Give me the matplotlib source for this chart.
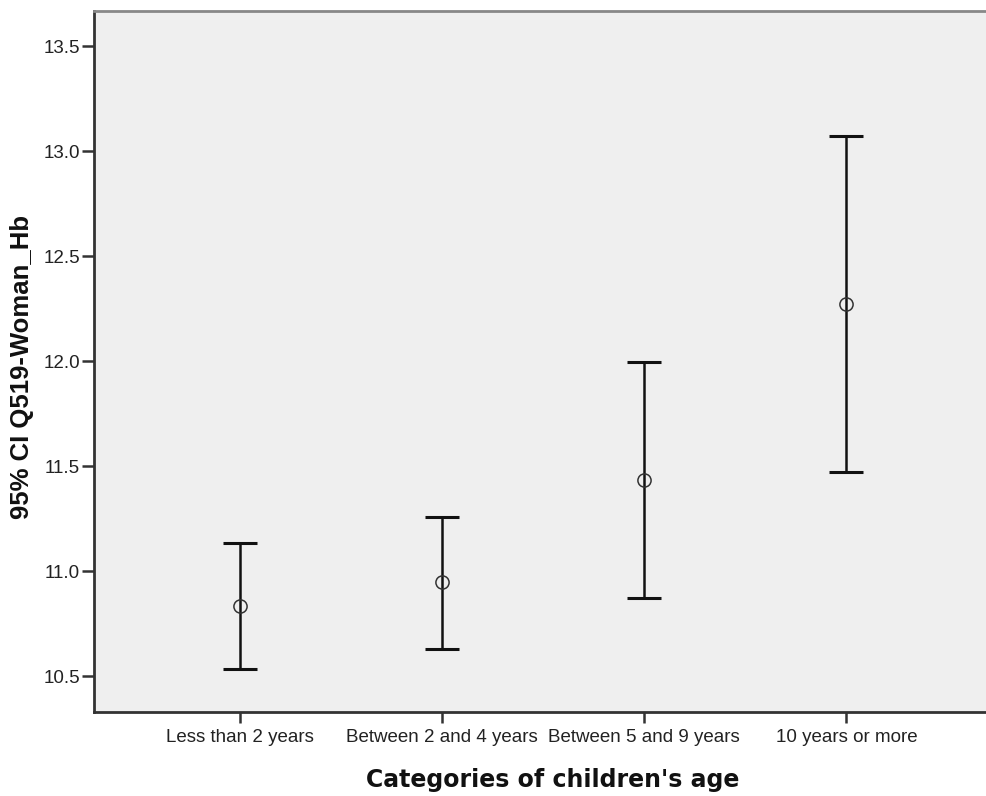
import matplotlib
matplotlib.use("Agg")
import matplotlib.pyplot as plt
import numpy as np

categories = ["Less than 2 years", "Between 2 and 4 years", "Between 5 and 9 years", "10 years or more"]
means = [10.833, 10.948, 11.433, 12.271]
lower = [10.533, 10.629, 10.871, 11.474]
upper = [11.133, 11.257, 11.995, 13.071]
yticks = [10.5, 11.0, 11.5, 12.0, 12.5, 13.0, 13.5]

W, H = 986, 796
fig = plt.figure(figsize=(W/100, H/100), dpi=100)
ax = fig.add_axes([94/W, 84/H, 1 - 94/W, (712 - 11)/H])
ax.set_facecolor("#efefef")

x = np.arange(len(categories))
m = np.array(means)
yerr = np.vstack([m - np.array(lower), np.array(upper) - m])
ax.errorbar(x, m, yerr=yerr, fmt="none", ecolor="#111111", elinewidth=1.8,
            capsize=12.5, capthick=2.2)
ax.plot(x, m, linestyle="none", marker="o", markersize=9.5, markerfacecolor="none",
        markeredgecolor="#333333", markeredgewidth=1.1)

ax.set_xlim(-0.72, 3.69)
ax.set_ylim(10.329, 13.667)
ax.set_xticks(x)
ax.set_xticklabels(categories, fontsize=13.5, family="Liberation Sans", color="#222222")
ax.set_yticks(yticks)
ax.set_yticklabels([f"{v:.1f}" for v in yticks], fontsize=13.5, family="Liberation Sans", color="#222222")
ax.tick_params(axis="y", direction="out", length=9, width=1.8, color="#333333", pad=1)
ax.tick_params(axis="x", direction="out", length=8, width=1.8, color="#333333", pad=4)

for s in ["left", "bottom"]:
    ax.spines[s].set_color("#333333")
    ax.spines[s].set_linewidth(2)
ax.spines["top"].set_color("#888888")
ax.spines["top"].set_linewidth(2)
ax.spines["right"].set_visible(False)

fig.text(553/W, 1 - 780/H, "Categories of children's age", fontsize=17, fontweight="bold",
         family="DejaVu Sans", ha="center", va="center", color="#111111")
fig.text(22/W, 1 - 367/H, "95% CI Q519-Woman_Hb", fontsize=18.5, fontweight="bold",
         family="Liberation Sans", ha="center", va="center", rotation=90, color="#111111")

fig.savefig("out.png", dpi=100, facecolor="white")
